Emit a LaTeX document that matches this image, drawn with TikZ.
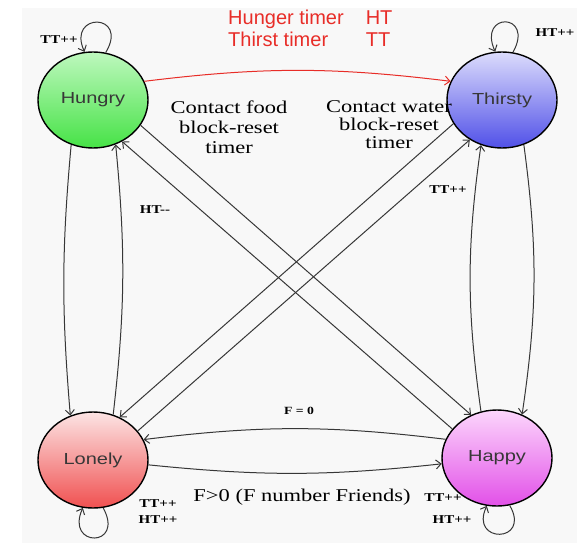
\documentclass[tikz,border=0pt]{standalone}
\usepackage{fontspec}
\setmainfont{Liberation Serif}
\setsansfont{Liberation Sans}
\usepackage{tikz}
\usetikzlibrary{shapes.geometric, arrows.meta}

\definecolor{bgcol}{RGB}{248,248,248}
\definecolor{inkcol}{RGB}{55,55,55}
\definecolor{redline}{RGB}{232,45,40}
\definecolor{hungrytop}{RGB}{190,248,190}
\definecolor{hungrybot}{RGB}{70,226,70}
\definecolor{thirstytop}{RGB}{220,220,252}
\definecolor{thirstybot}{RGB}{80,80,232}
\definecolor{lonelytop}{RGB}{252,228,228}
\definecolor{lonelybot}{RGB}{240,80,80}
\definecolor{happytop}{RGB}{252,214,252}
\definecolor{happybot}{RGB}{226,80,232}

\newcommand{\wide}[1]{\scalebox{1.25}[1]{#1}}

\begin{document}
\begin{tikzpicture}[x=1pt, y=-1pt, >={Straight Barb[length=5pt,width=9pt]}]
    \tikzstyle{state} = [ellipse, draw, line width=1.4pt, minimum width=110pt, minimum height=96pt, inner sep=0pt, font=\sffamily\fontsize{16}{16}\selectfont, text=inkcol]
    \tikzstyle{trans} = [->, inkcol, line width=1pt]
    \tikzstyle{tag} = [inner sep=0pt, font=\bfseries\fontsize{12}{12}\selectfont]
    \tikzstyle{note} = [inner sep=0pt, align=center, font=\fontsize{18}{20}\selectfont]

    % Background
    \fill[white] (0,0) rectangle (577,543);
    \fill[bgcol] (22,8) rectangle (577,543);

    % States
    \node[state, top color=hungrytop, bottom color=hungrybot] (hungry) at (93,100) {\wide{Hungry}};
    \node[state, top color=thirstytop, bottom color=thirstybot] (thirsty) at (502,100) {\wide{Thirsty}};
    \node[state, top color=lonelytop, bottom color=lonelybot] (lonely) at (93,460) {\wide{Lonely}};
    \node[state, top color=happytop, bottom color=happybot] (happy) at (497,458) {\wide{Happy}};

    % Self loops
    \draw[trans] (hungry.75) .. controls +(24,-40) and +(-18,-40) .. (hungry.100);
    \draw[trans] (thirsty.77) .. controls +(22,-40) and +(-18,-40) .. (thirsty.98);
    \draw[trans] (lonely.-78) .. controls +(22,40) and +(-18,40) .. (lonely.-102);
    \draw[trans] (happy.-75) .. controls +(22,38) and +(-18,38) .. (happy.-102);

    % Transitions
    \draw[trans, redline] (hungry.20) to[bend left=7] (thirsty.160);
    \draw[trans] (hungry.244) to[bend right=5] (lonely.117);
    \draw[trans] (lonely.66) to[bend right=6] (hungry.-63);
    \draw[trans] (hungry.-28) -- (happy.121);
    \draw[trans] (happy.147) -- (hungry.-55);
    \draw[trans] (thirsty.206) -- (lonely.58);
    \draw[trans] (lonely.33) -- (thirsty.231);
    \draw[trans] (thirsty.-64) to[bend left=8] (happy.60);
    \draw[trans] (happy.109) to[bend left=8] (thirsty.245);
    \draw[trans] (happy.160) to[bend right=7] (lonely.22);
    \draw[trans] (lonely.-5) to[bend right=6] (happy.186);

    % Labels
    \node[anchor=west, inner sep=0pt, text=redline, font=\sffamily\fontsize{20}{22}\selectfont] (timers) at (228,31)
        {\begin{tabular}{@{}l@{\hspace{22pt}}l@{}}Hunger timer & HT\\ Thirst timer & TT\end{tabular}};
    \node[note] (food) at (229,127) {\wide{Contact food}\\ \wide{block-reset}\\ \wide{timer}};
    \node[note, font=\fontsize{18}{18}\selectfont] (water) at (389,125) {\wide{Contact water}\\ \wide{block-reset}\\ \wide{timer}};
    \node[tag] (tthungry) at (59,40) {\wide{TT++}};
    \node[tag] (htthirsty) at (555,33) {\wide{HT++}};
    \node[tag] (htdown) at (155,210) {\wide{HT-{}-}};
    \node[tag] (ttup) at (448,190) {\wide{TT++}};
    \node[tag, font=\bfseries\fontsize{11}{11}\selectfont] (fzero) at (299,411) {\wide{F = 0}};
    \node[note] (fpos) at (302,497) {\wide{F>0 (F number Friends)}};
    \node[tag] (ttlonely) at (158,504) {\wide{TT++}};
    \node[tag] (htlonely) at (158,520) {\wide{HT++}};
    \node[tag] (tthappy) at (443,498) {\wide{TT++}};
    \node[tag] (hthappy) at (452,520) {\wide{HT++}};

\end{tikzpicture}
\end{document}
